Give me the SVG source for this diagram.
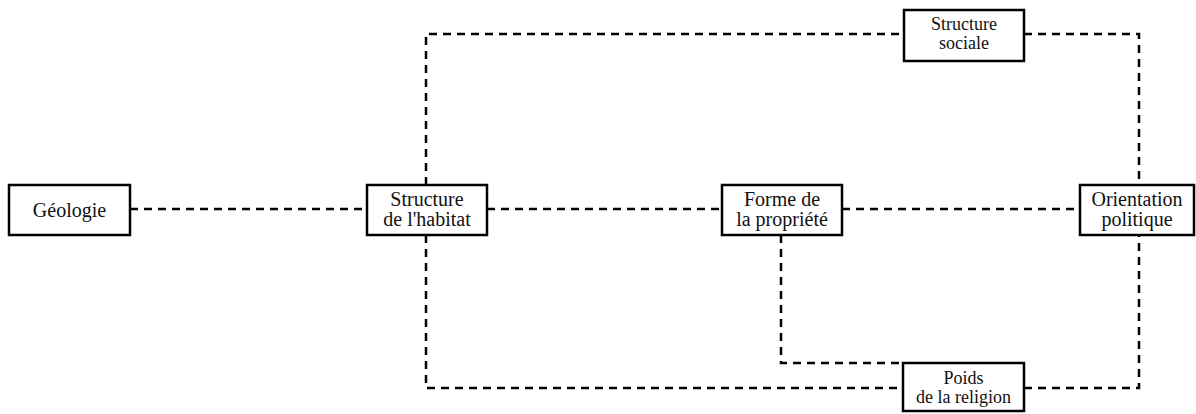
<svg xmlns="http://www.w3.org/2000/svg" width="1196" height="414" viewBox="0 0 1196 414">
<style>
.box{fill:#fff;stroke:#000;stroke-width:2.5}
.lbl{font-family:"Liberation Serif","Times New Roman",serif;font-size:20px;fill:#111;text-anchor:middle}
.sm{font-size:18px}
.dash{fill:none;stroke:#000;stroke-width:2.5;stroke-dasharray:8 6}
</style>
<rect width="1196" height="414" fill="#fff"/>
<g id="connectors">
<path class="dash" d="M130 209 H367"/>
<path class="dash" d="M487 209 H722"/>
<path class="dash" d="M842 209 H1080"/>
<path class="dash" d="M426 185 V34 H904"/>
<path class="dash" d="M1024 34 H1139 V185"/>
<path class="dash" d="M426 235 V388 H903"/>
<path class="dash" d="M1024 388 H1139 V235"/>
<path class="dash" d="M781 235 V363 H903"/>
</g>
<g id="geologie">
<rect class="box" x="9" y="185" width="121" height="50"/>
<text class="lbl" x="69.5" y="217">Géologie</text>
</g>
<g id="habitat">
<rect class="box" x="367" y="185" width="120" height="50"/>
<text class="lbl" x="427" y="206">Structure</text>
<text class="lbl" x="427" y="226">de l'habitat</text>
</g>
<g id="propriete">
<rect class="box" x="722" y="185" width="120" height="50"/>
<text class="lbl" x="782" y="206">Forme de</text>
<text class="lbl" x="782" y="226">la propriété</text>
</g>
<g id="orientation">
<rect class="box" x="1080" y="185" width="114" height="50"/>
<text class="lbl" x="1137" y="206">Orientation</text>
<text class="lbl" x="1137" y="226">politique</text>
</g>
<g id="sociale">
<rect class="box" x="904" y="10" width="120" height="51"/>
<text class="lbl sm" x="964" y="30">Structure</text>
<text class="lbl sm" x="964" y="49">sociale</text>
</g>
<g id="religion">
<rect class="box" x="903" y="363" width="121" height="48"/>
<text class="lbl sm" x="963.5" y="384">Poids</text>
<text class="lbl sm" x="963.5" y="403">de la religion</text>
</g>
</svg>
